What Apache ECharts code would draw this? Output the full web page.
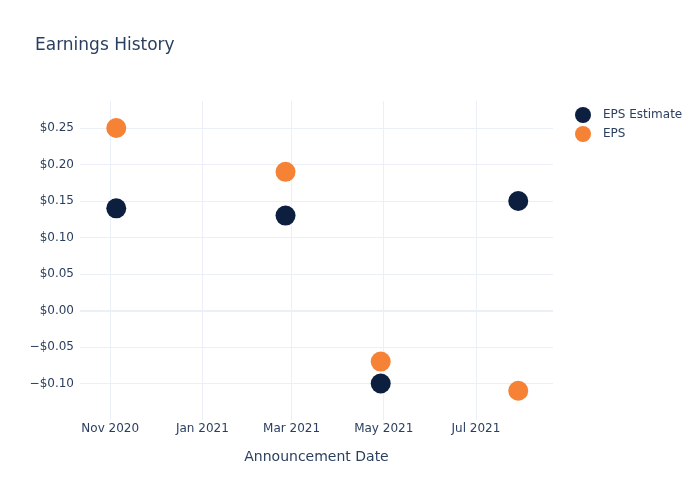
<!DOCTYPE html>
<html><head><meta charset="utf-8">
<script src="https://cdn.jsdelivr.net/npm/echarts@6/dist/echarts.min.js"></script>
<style>html,body{margin:0;padding:0;background:#fff}#c{width:700px;height:500px}</style>
</head><body><div id="c"></div>
<script>
const dates = ['2020-11-05', '2021-02-25', '2021-04-29', '2021-07-29'];
const epsEstimate = [0.14, 0.13, -0.10, 0.15];
const eps = [0.25, 0.19, -0.07, -0.11];
const xTicks = ['2020-11-01', '2021-01-01', '2021-03-01', '2021-05-01', '2021-07-01'];
const yTicks = [-0.10, -0.05, 0.00, 0.05, 0.10, 0.15, 0.20, 0.25];
const monthNames = ['Jan','Feb','Mar','Apr','May','Jun','Jul','Aug','Sep','Oct','Nov','Dec'];

const ts = s => { const [y,m,d] = s.split('-').map(Number); return Date.UTC(y, m-1, d); };
const font = 'DejaVu Sans, sans-serif';
const txt = '#2a3f5f';
const grid = '#ebf0f8';

const chart = echarts.init(document.getElementById('c'), null, {renderer:'canvas'});
chart.setOption({
  animation: false,
  backgroundColor: '#fff',
  textStyle: {fontFamily: font},
  title: {text: 'Earnings History', left: 30, top: 32,
    textStyle: {fontFamily: font, fontSize: 17, fontWeight: 'normal', color: txt}},
  legend: {
    orient: 'vertical', left: 570, top: 102, itemWidth: 16, itemHeight: 16, itemGap: 3,
    icon: 'circle',
    textStyle: {fontFamily: font, fontSize: 12, color: txt, padding: [0, 0, 0, 7]},
    data: ['EPS Estimate', 'EPS']
  },
  grid: {left: 80, right: 147, top: 101, bottom: 80},
  xAxis: {
    type: 'value',
    min: ts('2020-10-12'), max: ts('2021-08-21'),
    name: 'Announcement Date', nameLocation: 'middle', nameGap: 30,
    nameTextStyle: {fontFamily: font, fontSize: 14, color: txt},
    axisLine: {show: false}, axisTick: {show: false, customValues: xTicks.map(ts)},
    splitLine: {show: true, lineStyle: {color: grid, width: 1}},
    axisLabel: {customValues: xTicks.map(ts), fontFamily: font, fontSize: 12, color: txt, margin: 3,
      formatter: v => { const d = new Date(v); return monthNames[d.getUTCMonth()] + ' ' + d.getUTCFullYear(); }}
  },
  yAxis: {
    type: 'value', min: -0.15, max: 0.287,
    axisLine: {show: false}, axisTick: {show: false, customValues: yTicks},
    splitLine: {show: true, lineStyle: {color: grid, width: 1}},
    axisLabel: {customValues: yTicks, fontFamily: font, fontSize: 12, color: txt, margin: 6,
      formatter: v => (v < -1e-9 ? '\u2212$' : '$') + Math.abs(v).toFixed(2)}
  },
  series: [
    {name: 'EPS Estimate', type: 'scatter', symbolSize: 20, itemStyle: {color: '#0c1f3f', opacity: 1},
     data: dates.map((d,i) => [ts(d), epsEstimate[i]]),
     markLine: {silent: true, symbol: 'none', label: {show: false}, lineStyle: {color: grid, width: 2, type: 'solid'},
       data: [{yAxis: 0}], z: 1}},
    {name: 'EPS', type: 'scatter', symbolSize: 20, itemStyle: {color: '#f58235', opacity: 1},
     data: dates.map((d,i) => [ts(d), eps[i]])}
  ]
});
</script></body></html>
